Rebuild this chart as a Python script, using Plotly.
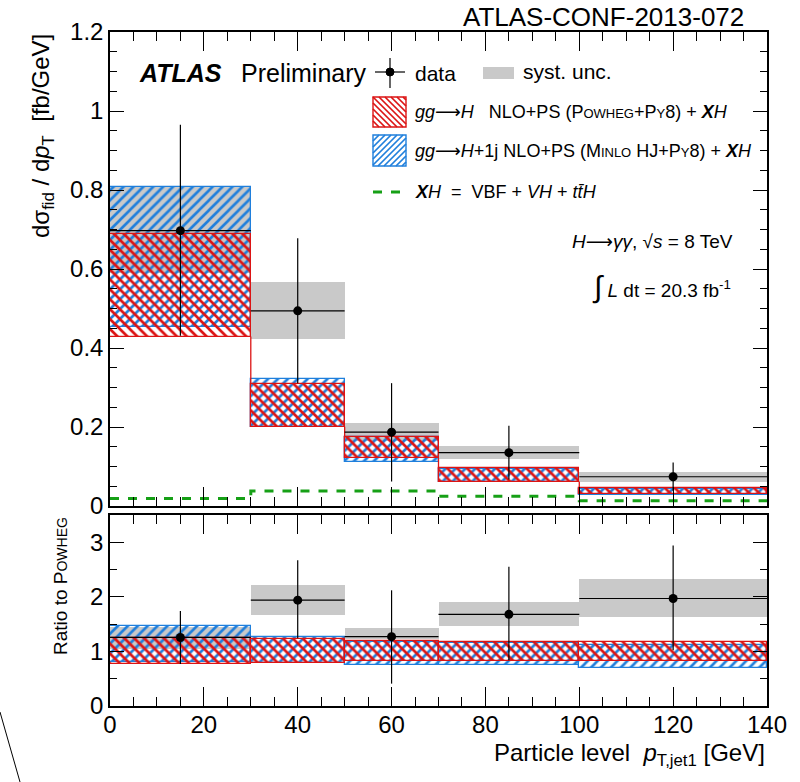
import plotly.graph_objects as go

# ---------------- data ----------------
edges = [0, 30, 50, 70, 100, 140]
data_x = [15, 40, 60, 85, 120]
data_val = [0.697, 0.494, 0.187, 0.135, 0.074]
data_up = [0.965, 0.678, 0.311, 0.203, 0.110]
data_dn = [0.431, 0.311, 0.062, 0.067, 0.038]
syst_lo = [0.590, 0.424, 0.165, 0.118, 0.062]
syst_hi = [0.808, 0.566, 0.209, 0.153, 0.087]
powheg_lo = [0.429, 0.201, 0.121, 0.062, 0.030]
powheg_hi = [0.689, 0.308, 0.175, 0.095, 0.046]
minlo_lo = [0.454, 0.199, 0.111, 0.060, 0.028]
minlo_hi = [0.808, 0.321, 0.175, 0.094, 0.044]
xh_val = [0.019, 0.038, 0.038, 0.025, 0.013]

ratio_val = [1.256, 1.94, 1.27, 1.68, 1.97]
ratio_up = [1.74, 2.67, 2.12, 2.55, 2.94]
ratio_dn = [0.77, 1.24, 0.41, 0.84, 1.02]
ratio_syst_lo = [1.05, 1.66, 1.22, 1.46, 1.63]
ratio_syst_hi = [1.45, 2.22, 1.43, 1.90, 2.33]
ratio_powheg_lo = [0.77, 0.79, 0.83, 0.83, 0.83]
ratio_powheg_hi = [1.25, 1.22, 1.19, 1.18, 1.18]
ratio_minlo_lo = [0.81, 0.78, 0.75, 0.75, 0.69]
ratio_minlo_hi = [1.46, 1.27, 1.18, 1.16, 1.12]

# ---------------- style ----------------
RED = "#dc1414"
BLUE = "#1f7fdc"
GRAY = "#c9c9c9"
GREEN = "#16a016"
FONT = "Liberation Sans"

centers = [(a + b) / 2 for a, b in zip(edges[:-1], edges[1:])]
widths = [b - a for a, b in zip(edges[:-1], edges[1:])]
halfw = [w / 2 for w in widths]

fig = go.Figure()


def band(lo, hi, kind, xa, ya):
    if kind == "syst":
        marker = dict(color=GRAY, line=dict(width=0))
    else:
        col = RED if kind == "red" else BLUE
        shape = "\\" if kind == "red" else "/"
        marker = dict(color="rgba(0,0,0,0)", line=dict(color=col, width=1.3),
                      pattern=dict(shape=shape, fgcolor=col, fgopacity=1,
                                   bgcolor="rgba(0,0,0,0)",
                                   size=7, solidity=0.38, fillmode="overlay"))
    fig.add_trace(go.Bar(x=centers, width=widths, base=lo,
                         y=[h - l for l, h in zip(lo, hi)],
                         marker=marker, xaxis=xa, yaxis=ya, showlegend=False,
                         hoverinfo="skip"))


def joins(lo, hi, xa, ya):
    xs, ys = [], []
    for i in range(len(lo) - 1):
        xs += [edges[i + 1], edges[i + 1], None]
        ys += [lo[i], hi[i + 1], None]
    fig.add_trace(go.Scatter(x=xs, y=ys, mode="lines", line=dict(color=RED, width=1.3),
                             xaxis=xa, yaxis=ya, showlegend=False, hoverinfo="skip"))


def datapts(val, up, dn, xa, ya):
    fig.add_trace(go.Scatter(
        x=data_x, y=val, mode="markers", xaxis=xa, yaxis=ya, showlegend=False,
        marker=dict(color="black", size=9),
        error_x=dict(type="data", array=halfw, color="black", thickness=1.2, width=0),
        error_y=dict(type="data", symmetric=False,
                     array=[u - v for u, v in zip(up, val)],
                     arrayminus=[v - d for v, d in zip(val, dn)],
                     color="black", thickness=1.2, width=0)))


# upper panel
band(syst_lo, syst_hi, "syst", "x", "y")
band(minlo_lo, minlo_hi, "blue", "x", "y")
band(powheg_lo, powheg_hi, "red", "x", "y")
joins(powheg_lo, powheg_hi, "x", "y")
fig.add_trace(go.Scatter(x=edges, y=xh_val + [xh_val[-1]], mode="lines",
                         line=dict(color=GREEN, width=3, dash="dash", shape="hv"),
                         xaxis="x", yaxis="y", showlegend=False))
datapts(data_val, data_up, data_dn, "x", "y")

# lower panel
band(ratio_syst_lo, ratio_syst_hi, "syst", "x2", "y2")
band(ratio_minlo_lo, ratio_minlo_hi, "blue", "x2", "y2")
band(ratio_powheg_lo, ratio_powheg_hi, "red", "x2", "y2")
datapts(ratio_val, ratio_up, ratio_dn, "x2", "y2")

# ---------------- layout ----------------
L, R, T, B = 110, 33, 32, 76
W, H = 800, 782
PW, PH = W - L - R, H - T - B


def px(x):
    return (x - L) / PW


def py(y):
    return (H - B - y) / PH


up_dom = [py(506), 1.0]
lo_dom = [0.0, py(515)]

axcommon = dict(showline=True, linecolor="black", linewidth=1.5, mirror="ticks",
                ticks="inside", tickcolor="black", tickwidth=1.3, showgrid=False,
                zeroline=False, tickfont=dict(family=FONT, size=24, color="black"))

fig.update_layout(
    width=W, height=H, margin=dict(l=L, r=R, t=T, b=B),
    paper_bgcolor="white", plot_bgcolor="white", barmode="overlay", bargap=0,
    showlegend=False,
    xaxis=dict(domain=[0, 1], anchor="y", range=[0, 140], dtick=20, ticklen=19,
               showticklabels=False, matches="x2",
               minor=dict(dtick=5, ticklen=9, ticks="inside", tickcolor="black", tickwidth=1.3),
               **axcommon),
    yaxis=dict(domain=up_dom, anchor="x", range=[0, 1.2], dtick=0.2, ticklen=14,
               minor=dict(dtick=0.05, ticklen=7, ticks="inside", tickcolor="black", tickwidth=1.3),
               **axcommon),
    xaxis2=dict(domain=[0, 1], anchor="y2", range=[0, 140], dtick=20, ticklen=19,
                ticklabelstandoff=-4,
                minor=dict(dtick=5, ticklen=9, ticks="inside", tickcolor="black", tickwidth=1.3),
                **axcommon),
    yaxis2=dict(domain=lo_dom, anchor="x2", range=[0, 3.5], dtick=1, ticklen=14,
                minor=dict(dtick=0.5, ticklen=7, ticks="inside", tickcolor="black", tickwidth=1.3),
                **axcommon),
)

shapes = []
annots = []


def text(x, y, s, size, xanchor="left", yanchor="middle", angle=0):
    annots.append(dict(x=px(x), y=py(y), xref="paper", yref="paper", text=s,
                       showarrow=False, xanchor=xanchor, yanchor=yanchor,
                       textangle=angle, font=dict(family=FONT, size=size, color="black")))


def hatch_box(x0, y0, x1, y1, col, direction, step=6.0):
    shapes.append(dict(type="rect", xref="paper", yref="paper",
                       x0=px(x0), x1=px(x1), y0=py(y1), y1=py(y0),
                       line=dict(color=col, width=1.4)))
    segs = []
    if direction == "\\":
        c = (x0 - y1)
        while c < x1 - y0:
            xa, xb = max(x0, y0 + c), min(x1, y1 + c)
            if xb > xa:
                segs.append(f"M{px(xa)},{py(xa - c)} L{px(xb)},{py(xb - c)}")
            c += step
    else:
        c = x0 + y0
        while c < x1 + y1:
            xa, xb = max(x0, c - y1), min(x1, c - y0)
            if xb > xa:
                segs.append(f"M{px(xa)},{py(c - xa)} L{px(xb)},{py(c - xb)}")
            c += step
    shapes.append(dict(type="path", xref="paper", yref="paper", path=" ".join(segs),
                       line=dict(color=col, width=1.7)))


# legend symbols
shapes.append(dict(type="line", xref="paper", yref="paper", x0=px(375), x1=px(405),
                   y0=py(72), y1=py(72), line=dict(color="black", width=1.2)))
shapes.append(dict(type="line", xref="paper", yref="paper", x0=px(390), x1=px(390),
                   y0=py(58), y1=py(88), line=dict(color="black", width=1.2)))
shapes.append(dict(type="circle", xref="paper", yref="paper", x0=px(386), x1=px(394),
                   y0=py(76), y1=py(68), fillcolor="black", line=dict(color="black", width=1)))
shapes.append(dict(type="rect", xref="paper", yref="paper", x0=px(483), x1=px(514),
                   y0=py(79), y1=py(67), fillcolor=GRAY, line=dict(width=0)))
hatch_box(373, 97, 406, 127, RED, "\\")
hatch_box(373, 135, 406, 166, BLUE, "/")
shapes.append(dict(type="line", xref="paper", yref="paper", x0=px(373), x1=px(406),
                   y0=py(192), y1=py(192), line=dict(color=GREEN, width=3, dash="dash")))
# stray page line bottom-left
shapes.append(dict(type="line", xref="paper", yref="paper", x0=px(0), x1=px(20),
                   y0=py(712), y1=py(782), line=dict(color="black", width=1)))

sc = "font-size:13px"
XH = "<b><i>X</i></b><i>H</i>"
NB = "\u00a0"
ARR = "<span style='font-family:DejaVu Sans'>⟶</span>"
text(137, 73, "<b><i>ATLAS</i></b>", 25)
text(239, 73, "Preliminary", 25)
text(413, 73, "data", 21)
text(521, 71, "syst. unc.", 21)
text(413, 111, f"<i>gg</i>{ARR}<i>H</i>{NB*3}NLO+PS (P<span style='{sc}'>OWHEG</span>+P<span style='{sc}'>Y</span>8) + {XH}", 18)
text(413, 150, f"<i>gg</i>{ARR}<i>H</i>+1j NLO+PS (M<span style='{sc}'>INLO</span> HJ+P<span style='{sc}'>Y</span>8) + {XH}", 18)
text(413, 192, f"{XH}{NB*2}={NB*2}VBF + <i>VH</i> + <i>t</i><i>t\u0304</i><i>H</i>", 18)
text(735, 241, f"<i>H</i>{ARR}<i>γγ</i>, √<i>s</i> = 8 TeV", 19, xanchor="right")
text(733, 287, "<span style='font-size:30px'>∫</span> <i>L</i> dt = 20.3 fb<sup>-1</sup>", 19, xanchor="right")
text(746, 17, "ATLAS-CONF-2013-072", 26, xanchor="right")
text(42, 32, "dσ<sub>fid</sub> / d<i>p</i><sub>T</sub>" + NB * 2 + "[fb/GeV]", 24,
     xanchor="center", yanchor="top", angle=-90)
text(60, 586, "Ratio to P<span style='font-size:14px'>OWHEG</span>", 19,
     xanchor="center", yanchor="middle", angle=-90)
text(767, 755, "Particle level" + NB * 2 + "<i>p</i><sub>T,jet1</sub> [GeV]", 24,
     xanchor="right", yanchor="middle")

fig.update_layout(shapes=shapes, annotations=annots)
fig.write_html("out.html")
